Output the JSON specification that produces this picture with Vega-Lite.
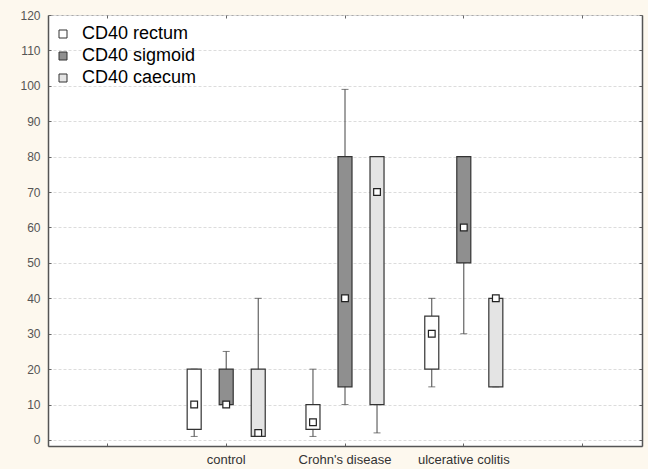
{
  "$schema": "https://vega.github.io/schema/vega-lite/v6.json",
  "width": 594,
  "height": 431,
  "autosize": {"type": "none"},
  "padding": {"left": 48, "top": 15, "right": 6, "bottom": 23},
  "background": "#fdf8ee",
  "config": {
    "view": {"fill": "white", "stroke": "#aaaaaa", "strokeWidth": 1},
    "font": "Liberation Sans"
  },
  "data": {
    "values": [
      {"group": "control", "site": "CD40 rectum", "lo": 1, "q1": 3, "med": 10, "q3": 20, "hi": 20},
      {"group": "control", "site": "CD40 sigmoid", "lo": 10, "q1": 10, "med": 10, "q3": 20, "hi": 25},
      {"group": "control", "site": "CD40 caecum", "lo": 1, "q1": 1, "med": 2, "q3": 20, "hi": 40},
      {"group": "Crohn's disease", "site": "CD40 rectum", "lo": 1, "q1": 3, "med": 5, "q3": 10, "hi": 20},
      {"group": "Crohn's disease", "site": "CD40 sigmoid", "lo": 10, "q1": 15, "med": 40, "q3": 80, "hi": 99},
      {"group": "Crohn's disease", "site": "CD40 caecum", "lo": 2, "q1": 10, "med": 70, "q3": 80, "hi": 80},
      {"group": "ulcerative colitis", "site": "CD40 rectum", "lo": 15, "q1": 20, "med": 30, "q3": 35, "hi": 40},
      {"group": "ulcerative colitis", "site": "CD40 sigmoid", "lo": 30, "q1": 50, "med": 60, "q3": 80, "hi": 80},
      {"group": "ulcerative colitis", "site": "CD40 caecum", "lo": 15, "q1": 15, "med": 40, "q3": 40, "hi": 40}
    ]
  },
  "resolve": {"axis": {"x": "independent", "y": "independent"}},
  "layer": [
    {
      "mark": {"type": "rule", "color": "#444444", "strokeWidth": 1},
      "encoding": {
        "x": {
          "field": "group", "type": "nominal",
          "scale": {"domain": ["_a", "control", "Crohn's disease", "ulcerative colitis", "_b"], "paddingInner": 0, "paddingOuter": 0},
          "axis": {
            "orient": "bottom", "title": null, "labelAngle": 0,
            "labelExpr": "slice(datum.value, 0, 1) == '_' ? '' : datum.value",
            "labelFontSize": 13, "labelColor": "#333333", "labelPadding": 10,
            "domainColor": "#555555", "domainWidth": 1.5,
            "tickSize": -3, "tickColor": "#666666", "bandPosition": 0.5, "grid": false
          }
        },
        "xOffset": {
          "field": "site", "type": "nominal",
          "scale": {"domain": ["CD40 rectum", "CD40 sigmoid", "CD40 caecum"], "paddingInner": 0.5625, "paddingOuter": 0.636}
        },
        "y": {
          "field": "lo", "type": "quantitative",
          "scale": {"domain": [-1.7, 120], "nice": false, "zero": false},
          "axis": {
            "orient": "left", "title": null,
            "values": [0, 10, 20, 30, 40, 50, 60, 70, 80, 90, 100, 110, 120],
            "labelFontSize": 12, "labelColor": "#555555", "labelPadding": 11,
            "domainColor": "#555555", "domainWidth": 1.5,
            "tickSize": -3, "tickColor": "#666666",
            "grid": true, "gridColor": "#dcdcdc", "gridDash": [3, 2]
          }
        },
        "y2": {"field": "hi"}
      }
    },
    {
      "mark": {"type": "tick", "orient": "horizontal", "color": "#444444", "size": 7, "thickness": 1},
      "encoding": {
        "x": {
          "field": "group", "type": "nominal",
          "axis": {
            "orient": "top", "title": null, "labels": false, "domain": false,
            "tickSize": -3, "tickColor": "#666666", "bandPosition": 0.5, "grid": false
          }
        },
        "xOffset": {"field": "site", "type": "nominal"},
        "y": {
          "field": "lo", "type": "quantitative",
          "axis": {
            "orient": "right", "title": null, "labels": false,
            "values": [0, 10, 20, 30, 40, 50, 60, 70, 80, 90, 100, 110, 120],
            "domainColor": "#555555", "domainWidth": 1.5,
            "tickSize": -3, "tickColor": "#666666", "grid": false
          }
        }
      }
    },
    {
      "mark": {"type": "tick", "orient": "horizontal", "color": "#444444", "size": 7, "thickness": 1},
      "encoding": {
        "x": {"field": "group", "type": "nominal", "axis": null},
        "xOffset": {"field": "site", "type": "nominal"},
        "y": {"field": "hi", "type": "quantitative", "axis": null}
      }
    },
    {
      "mark": {"type": "bar", "stroke": "#333333", "strokeWidth": 1.2},
      "encoding": {
        "x": {"field": "group", "type": "nominal", "axis": null},
        "xOffset": {"field": "site", "type": "nominal"},
        "y": {"field": "q1", "type": "quantitative", "axis": null},
        "y2": {"field": "q3"},
        "fill": {
          "field": "site", "type": "nominal",
          "scale": {"domain": ["CD40 rectum", "CD40 sigmoid", "CD40 caecum"], "range": ["#ffffff", "#8f8f8f", "#e4e4e4"]},
          "legend": {
            "title": null, "orient": "none", "legendX": 6, "legendY": 10,
            "padding": 0, "symbolType": "square", "symbolSize": 64,
            "symbolStrokeColor": "#333333", "symbolStrokeWidth": 1,
            "labelFontSize": 18, "labelColor": "#000000", "labelFont": "Liberation Sans",
            "labelOffset": 10, "rowPadding": 4
          }
        }
      }
    },
    {
      "mark": {"type": "point", "shape": "square", "size": 45, "filled": true, "fill": "white", "stroke": "#222222", "strokeWidth": 1.2, "opacity": 1},
      "encoding": {
        "x": {"field": "group", "type": "nominal", "axis": null},
        "xOffset": {"field": "site", "type": "nominal"},
        "y": {"field": "med", "type": "quantitative", "axis": null}
      }
    }
  ]
}
